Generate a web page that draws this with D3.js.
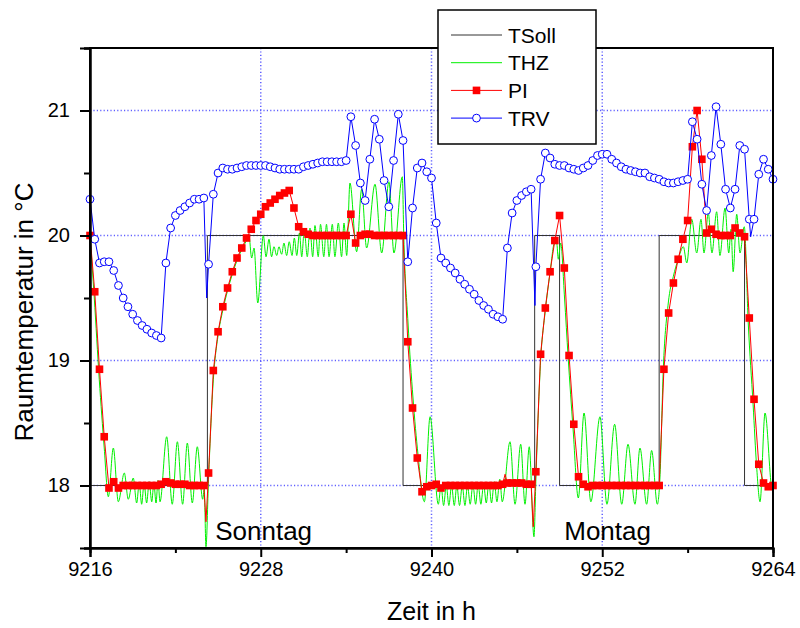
<!DOCTYPE html>
<html>
<head>
<meta charset="utf-8">
<script src="https://cdn.jsdelivr.net/npm/d3@7"></script>
<style>
  body { margin: 0; background: #fff; }
  svg { display: block; }
  text { font-family: "Liberation Sans", Arial, sans-serif; fill: #000; }
</style>
</head>
<body>
<svg id="chart" width="800" height="628"></svg>
<script>
// ---- data -------------------------------------------------------------
const seriesNames = ["TSoll", "THZ", "PI", "TRV"];
const xTicks = [9216, 9228, 9240, 9252, 9264];
const xMinorTicks = [9222, 9234, 9246, 9258];
const yTicks = [18, 19, 20, 21];
const yMinorTicks = [17.5, 18.5, 19.5, 20.5, 21.5];
const dayLabels = ["Sonntag", "Montag"];
const dayLabelTimes = [9224.8, 9249.33];
const dayLabelValues = [17.565, 17.565];

// set-point schedule (step changes)
const tsollTimes  = [9216, 9224.25, 9238, 9247.25, 9249, 9256, 9262, 9264];
const tsollValues = [18,   20,      18,   20,      18,   20,   18,   18];

// logged samples every 20 minutes from t = 9216 h
const sampleStart = 9216;
const sampleStep = 1 / 3;

const piValues = [
  20.00, 19.55, 18.93, 18.39, 17.98, 18.03, 17.98, 18.00, 18.00, 18.00,
  18.00, 18.00, 18.00, 18.00, 18.00, 18.01, 18.03, 18.02, 18.01, 18.01,
  18.01, 18.00, 18.00, 18.00, 18.00, 18.10, 18.92, 19.23, 19.43, 19.58,
  19.71, 19.82, 19.90, 19.98, 20.05, 20.12, 20.17, 20.23, 20.26, 20.29,
  20.32, 20.34, 20.36, 20.22, 20.07, 20.03, 20.01, 20.00, 20.00, 20.00,
  20.00, 20.00, 20.00, 20.00, 20.00, 20.17, 19.94, 20.00, 20.01, 20.01,
  20.00, 20.00, 20.00, 20.00, 20.00, 20.00, 20.00, 19.15, 18.62, 18.22,
  17.95, 17.99, 18.00, 18.01, 17.98, 18.00, 18.00, 18.00, 18.00, 18.00,
  18.00, 18.00, 18.00, 18.00, 18.00, 18.00, 18.00, 18.01, 18.02, 18.02,
  18.02, 18.02, 18.01, 18.01, 18.11, 19.05, 19.42, 19.71, 19.96, 20.16,
  19.74, 19.04, 18.49, 18.07, 18.01, 17.99, 18.00, 18.00, 18.00, 18.00,
  18.00, 18.00, 18.00, 18.00, 18.00, 18.00, 18.00, 18.00, 18.00, 18.00,
  18.00, 18.93, 19.38, 19.62, 19.81, 19.97, 20.12, 20.71, 21.00, 20.61,
  20.02, 20.05, 20.01, 20.00, 20.00, 20.00, 20.06, 20.02, 19.99, 19.34,
  18.69, 18.17, 18.02, 17.99, 18.00
];
// short excursions of the PI trace between logged samples
const piExtraTimes  = [9224.15, 9245.17, 9247.15];
const piExtraValues = [17.71,   18.09,   17.67];

const trvValues = [
  20.29, 19.97, 19.78, 19.79, 19.79, 19.72, 19.60, 19.50, 19.43, 19.37,
  19.32, 19.28, 19.25, 19.22, 19.20, 19.18, 19.78, 20.06, 20.16, 20.20,
  20.23, 20.26, 20.29, 20.29, 20.30, 19.77, 20.33, 20.50, 20.54, 20.53,
  20.53, 20.54, 20.55, 20.56, 20.56, 20.56, 20.56, 20.56, 20.55, 20.54,
  20.53, 20.53, 20.53, 20.53, 20.53, 20.55, 20.56, 20.57, 20.58, 20.59,
  20.59, 20.59, 20.59, 20.59, 20.60, 20.95, 20.72, 20.42, 20.28, 20.61,
  20.93, 20.77, 20.44, 20.23, 20.60, 20.97, 20.76, 19.79, 20.22, 20.54,
  20.58, 20.51, 20.46, 20.10, 19.82, 19.78, 19.74, 19.70, 19.65, 19.61,
  19.57, 19.53, 19.48, 19.44, 19.41, 19.37, 19.35, 19.33, 19.90, 20.18,
  20.28, 20.32, 20.35, 20.37, 19.75, 20.45, 20.66, 20.62, 20.57, 20.56,
  20.56, 20.54, 20.53, 20.52, 20.54, 20.56, 20.60, 20.64, 20.65, 20.65,
  20.61, 20.58, 20.55, 20.53, 20.52, 20.51, 20.50, 20.50, 20.47, 20.46,
  20.45, 20.43, 20.42, 20.42, 20.43, 20.44, 20.45, 20.91, 20.77, 20.41,
  20.20, 20.64, 21.03, 20.73, 20.37, 20.22, 20.37, 20.72, 20.69, 20.13,
  20.13, 20.49, 20.61, 20.53, 20.45
];
const trvExtraTimes  = [9224.2, 9247.27, 9262.43];
const trvExtraValues = [19.50,  19.44,   19.99];

// wall-thermostat trace (turning points of the oscillation)
const thzTimes = [
  9216.0, 9216.3, 9216.65, 9217.0, 9217.29, 9217.64, 9217.99, 9218.41, 9218.69, 9219.04,
  9219.28, 9219.46, 9219.63, 9219.8, 9219.98, 9220.16, 9220.34, 9220.49, 9220.64, 9220.78,
  9220.92, 9221.39, 9221.78, 9222.14, 9222.51, 9222.84, 9223.19, 9223.54, 9223.92, 9224.03,
  9224.15, 9224.33, 9224.67, 9225.0, 9225.33, 9225.67, 9226.0, 9226.33, 9226.67, 9227.0,
  9227.17, 9227.36, 9227.53, 9227.79, 9228.18, 9228.37, 9228.58, 9228.76, 9228.93, 9229.12,
  9229.28, 9229.47, 9229.63, 9229.82, 9230.0, 9230.2, 9230.36, 9230.53, 9230.72, 9230.88,
  9231.06, 9231.27, 9231.46, 9231.65, 9231.81, 9232.04, 9232.2, 9232.43, 9232.62, 9232.8,
  9233.03, 9233.21, 9233.45, 9233.68, 9233.85, 9234.04, 9234.27, 9234.74, 9235.09, 9235.44,
  9236.03, 9236.5, 9237.01, 9237.36, 9237.95, 9238.05, 9238.35, 9238.7, 9239.05, 9239.5,
  9239.9, 9240.48, 9240.67, 9240.85, 9241.04, 9241.22, 9241.41, 9241.6, 9241.78, 9241.97,
  9242.16, 9242.35, 9242.53, 9242.72, 9242.91, 9243.1, 9243.28, 9243.47, 9243.66, 9243.85,
  9244.03, 9244.22, 9244.41, 9244.6, 9244.8, 9244.97, 9245.52, 9245.87, 9246.27, 9246.57,
  9246.87, 9247.2, 9247.35, 9247.67, 9248.0, 9248.33, 9248.65, 9248.8, 9248.91, 9249.08,
  9249.35, 9249.6, 9249.95, 9250.32, 9250.72, 9251.2, 9251.84, 9252.33, 9252.87, 9253.37,
  9253.81, 9254.3, 9254.65, 9255.12, 9255.47, 9255.87, 9256.05, 9256.29, 9256.64, 9256.99,
  9257.34, 9257.7, 9257.94, 9258.29, 9258.64, 9258.94, 9259.15, 9259.45, 9259.71, 9260.04,
  9260.27, 9260.63, 9260.89, 9261.05, 9261.2, 9261.45, 9261.68, 9261.98, 9262.26, 9262.6,
  9262.85, 9263.09, 9263.44, 9263.91, 9264.0
];
const thzValues = [
  20.0, 19.5, 18.85, 18.3, 17.91, 18.30, 17.87, 18.10, 17.89, 18.06,
  17.86, 18.02, 17.85, 18.02, 17.86, 18.03, 17.87, 18.02, 17.86, 18.04,
  17.87, 18.39, 17.85, 18.35, 17.85, 18.34, 17.86, 18.31, 17.89, 17.97,
  17.51, 18.05, 18.85, 19.2, 19.4, 19.56, 19.69, 19.8, 19.89, 19.96,
  20.0, 19.82, 19.90, 19.46, 20.0, 19.83, 19.97, 19.83, 19.91, 19.84,
  19.91, 19.85, 19.94, 19.84, 19.95, 19.84, 19.98, 19.84, 20.02, 19.83,
  20.04, 19.83, 20.06, 19.83, 20.08, 19.83, 20.09, 19.83, 20.09, 19.83,
  20.09, 19.83, 20.10, 19.83, 20.10, 19.84, 20.42, 19.87, 20.37, 19.90,
  20.41, 19.86, 20.43, 19.86, 20.47, 20.0, 19.3, 18.7, 18.25, 17.87,
  18.55, 17.85, 18.0, 17.84, 18.0, 17.84, 18.0, 17.84, 18.0, 17.84,
  18.0, 17.84, 18.0, 17.85, 18.01, 17.85, 18.01, 17.85, 18.01, 17.86,
  18.02, 17.86, 18.03, 17.87, 18.05, 17.87, 18.35, 17.85, 18.33, 17.85,
  18.31, 17.59, 18.1, 19.0, 19.4, 19.7, 19.94, 19.94, 19.81, 19.94,
  19.5, 19.03, 18.45, 17.90, 18.58, 17.87, 18.55, 17.85, 18.49, 17.85,
  18.33, 17.85, 18.30, 17.85, 18.28, 17.85, 18.05, 18.93, 19.46, 19.67,
  19.81, 19.91, 19.78, 20.13, 19.86, 20.13, 19.86, 20.18, 19.86, 20.19,
  19.84, 20.22, 19.86, 20.05, 19.71, 20.17, 19.86, 20.07, 19.3, 18.65,
  18.15, 17.87, 18.58, 17.98, 17.95
];

// ---- assembly ---------------------------------------------------------
const sampled = vals => vals.map((v, i) => ({ t: sampleStart + i * sampleStep, v }));
const paired = (ts, vs) => ts.map((t, i) => ({ t, v: vs[i] }));

const tsoll = paired(tsollTimes, tsollValues);
const thz = paired(thzTimes, thzValues);
const piMarks = sampled(piValues);
const piLine = piMarks.concat(paired(piExtraTimes, piExtraValues)).sort((a, b) => a.t - b.t);
const trvMarks = sampled(trvValues);
const trvLine = trvMarks.concat(paired(trvExtraTimes, trvExtraValues)).sort((a, b) => a.t - b.t);

// ---- layout -----------------------------------------------------------
const W = 800, H = 628;
const plot = { left: 90, right: 773, top: 48, bottom: 548 };
const sq = 7.6;     // PI marker edge
const cr = 3.9;     // TRV marker radius

const svg = d3.select("#chart");
svg.append("rect").attr("width", W).attr("height", H).attr("fill", "#fff");

const x = d3.scaleLinear().domain([9216, 9264]).range([plot.left, plot.right]);
const y = d3.scaleLinear().domain([17.5, 21.5]).range([plot.bottom, plot.top]);

const colors = { TSoll: "#333", THZ: "#00f000", PI: "#ff0000", TRV: "#0000ff" };
const gridColor = "#5f5fff";

// grid
const grid = svg.append("g");
grid.selectAll(".gy").data(yTicks).join("line")
  .attr("x1", plot.left).attr("x2", plot.right)
  .attr("y1", d => y(d)).attr("y2", d => y(d))
  .attr("stroke", gridColor).attr("stroke-width", 1.5).attr("stroke-dasharray", "1.2,2.2");
grid.selectAll(".gx").data(xTicks.slice(1, -1)).join("line")
  .attr("x1", d => x(d)).attr("x2", d => x(d))
  .attr("y1", plot.top).attr("y2", plot.bottom)
  .attr("stroke", gridColor).attr("stroke-width", 1.5).attr("stroke-dasharray", "1.2,2.2");

// series
svg.append("path").datum(tsoll)
  .attr("d", d3.line().x(d => x(d.t)).y(d => y(d.v)).curve(d3.curveStepAfter))
  .attr("fill", "none").attr("stroke", colors.TSoll).attr("stroke-width", 1);

svg.append("path").datum(thz)
  .attr("d", d3.line().x(d => x(d.t)).y(d => y(d.v)).curve(d3.curveMonotoneX))
  .attr("fill", "none").attr("stroke", colors.THZ).attr("stroke-width", 1);

svg.append("path").datum(piLine)
  .attr("d", d3.line().x(d => x(d.t)).y(d => y(d.v)))
  .attr("fill", "none").attr("stroke", colors.PI).attr("stroke-width", 1);
svg.append("g").selectAll("rect").data(piMarks).join("rect")
  .attr("x", d => x(d.t) - sq / 2).attr("y", d => y(d.v) - sq / 2)
  .attr("width", sq).attr("height", sq).attr("fill", colors.PI);

svg.append("path").datum(trvLine)
  .attr("d", d3.line().x(d => x(d.t)).y(d => y(d.v)))
  .attr("fill", "none").attr("stroke", colors.TRV).attr("stroke-width", 1);
svg.append("g").selectAll("circle").data(trvMarks).join("circle")
  .attr("cx", d => x(d.t)).attr("cy", d => y(d.v)).attr("r", cr)
  .attr("fill", "#fff").attr("stroke", colors.TRV).attr("stroke-width", 1);

// frame
svg.append("rect")
  .attr("x", plot.left).attr("y", plot.top)
  .attr("width", plot.right - plot.left).attr("height", plot.bottom - plot.top)
  .attr("fill", "none").attr("stroke", "#000").attr("stroke-width", 2);

// axes
const xAxis = svg.append("g").attr("transform", `translate(0,${plot.bottom})`)
  .call(d3.axisBottom(x).tickValues(xTicks).tickFormat(d3.format("d")).tickSize(9).tickPadding(5));
const xMinor = svg.append("g").attr("transform", `translate(0,${plot.bottom})`)
  .call(d3.axisBottom(x).tickValues(xMinorTicks).tickFormat("").tickSize(5));
const yAxis = svg.append("g").attr("transform", `translate(${plot.left},0)`)
  .call(d3.axisLeft(y).tickValues(yTicks).tickFormat(d3.format("d")).tickSize(10).tickPadding(10));
const yMinor = svg.append("g").attr("transform", `translate(${plot.left},0)`)
  .call(d3.axisLeft(y).tickValues(yMinorTicks).tickFormat("").tickSize(6));

[xAxis, xMinor, yAxis, yMinor].forEach(g => {
  g.select(".domain").attr("stroke", "#000").attr("stroke-width", 2);
  g.selectAll(".tick line").attr("stroke", "#000").attr("stroke-width", 2);
  g.selectAll(".tick text").attr("font-size", 20).attr("font-family", '"Liberation Sans", Arial, sans-serif').attr("fill", "#000");
});

// axis titles
svg.append("text")
  .attr("x", (plot.left + plot.right) / 2).attr("y", 620)
  .attr("text-anchor", "middle").attr("font-size", 25)
  .text("Zeit in h");
svg.append("text")
  .attr("transform", `translate(33,${(plot.top + plot.bottom) / 2 + 14}) rotate(-90)`)
  .attr("text-anchor", "middle").attr("font-size", 26)
  .text("Raumtemperatur in °C");

// day annotations
svg.append("g").selectAll("text").data(dayLabels).join("text")
  .attr("x", (d, i) => x(dayLabelTimes[i]))
  .attr("y", (d, i) => y(dayLabelValues[i]))
  .attr("font-size", 26)
  .text(d => d);

// legend
const lg = svg.append("g").attr("transform", "translate(438,10)");
lg.append("rect").attr("width", 158).attr("height", 134)
  .attr("fill", "#fff").attr("stroke", "#000").attr("stroke-width", 1.5);
const rows = lg.selectAll("g.row").data(seriesNames).join("g")
  .attr("transform", (d, i) => `translate(0,${25 + i * 27.7})`);
rows.append("line").attr("x1", 13).attr("x2", 64)
  .attr("stroke", d => colors[d]).attr("stroke-width", 1);
rows.filter(d => d === "PI").append("rect")
  .attr("x", 38.5 - sq / 2).attr("y", -sq / 2).attr("width", sq).attr("height", sq).attr("fill", colors.PI);
rows.filter(d => d === "TRV").append("circle")
  .attr("cx", 38.5).attr("r", cr).attr("fill", "#fff").attr("stroke", colors.TRV);
rows.append("text").attr("x", 70).attr("dy", "0.36em").attr("font-size", 21).text(d => d);
</script>
</body>
</html>
